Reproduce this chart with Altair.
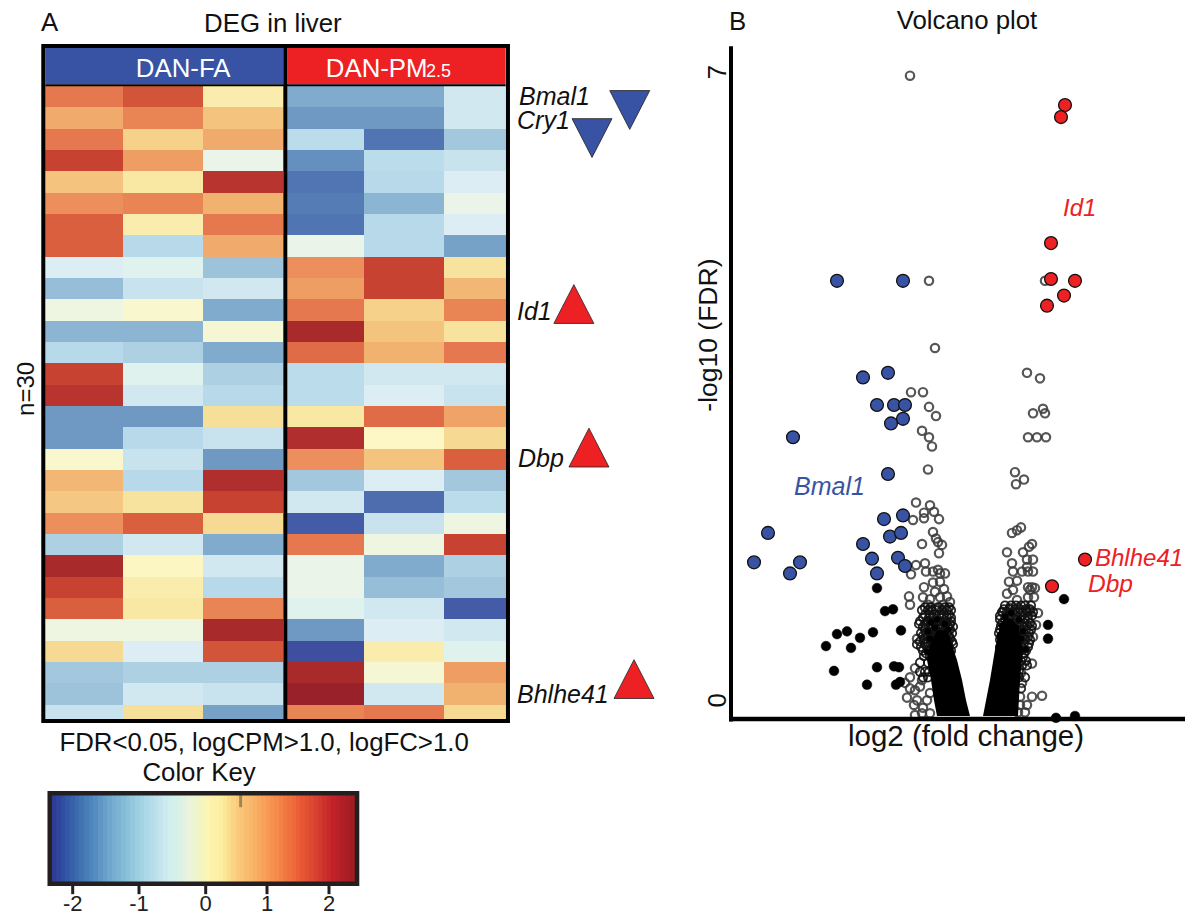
import altair as alt
import pandas as pd

FONT = "Liberation Sans"
BLUE, RED, INK = "#3953a4", "#ed2024", "#231f20"

# ---------- heat map values (z-score) ----------
heat_fa = [
 [1.3,1.6,0.25],[0.9,1.2,0.7],[1.3,0.55,0.9],[1.75,1.0,-0.2],[0.7,0.3,1.95],[1.1,1.2,0.85],
 [1.5,0.25,1.3],[1.5,-0.8,0.9],[-0.4,-0.3,-1.05],[-1.1,-0.6,-0.5],[-0.1,0.05,-1.3],[-1.2,-1.2,0.0],
 [-0.8,-0.9,-1.3],[1.75,-0.3,-0.9],[1.95,-0.5,-0.8],[-1.5,-1.5,0.4],[-1.5,-0.8,-0.6],[0.05,-0.6,-1.5],
 [0.8,-0.8,2.05],[0.65,0.35,1.75],[1.1,1.5,0.45],[-0.9,-0.5,-1.3],[2.2,0.12,-0.5],[1.75,0.25,-0.8],
 [1.5,0.3,1.2],[-0.1,-0.1,2.2],[0.45,-0.4,1.6],[-1.0,-0.9,-0.9],[-1.05,-0.5,-0.6],[-0.6,0.4,-1.4]]
heat_pm = [
 [-1.3,-1.3,-0.5],[-1.5,-1.5,-0.5],[-0.75,-1.9,-1.0],[-1.6,-0.75,-0.6],[-1.9,-0.8,-0.4],[-1.8,-1.2,-0.2],
 [-1.9,-0.8,-0.4],[-0.2,-0.8,-1.4],[1.1,1.75,0.35],[1.0,1.75,0.8],[1.3,0.55,1.2],[2.2,0.7,0.35],
 [1.4,0.85,1.3],[-0.75,-0.5,-0.5],[-0.75,-0.4,-0.6],[0.3,1.4,0.95],[2.05,0.1,0.45],[1.1,0.7,1.5],
 [-1.0,-0.4,-1.0],[-0.5,-2.0,-0.75],[-2.2,-0.6,-0.1],[1.3,-0.1,1.75],[-0.2,-1.3,-0.9],[-0.2,-1.1,-1.0],
 [-0.3,-0.5,-2.2],[-1.5,-0.4,-0.5],[-2.35,0.25,-0.3],[2.2,0.0,1.0],[2.4,-0.5,0.85],[1.2,1.3,0.45]]
col_left  = [0, 1, 2, 3.05, 4.05, 5.05]
col_right = [1, 2, 3, 4.05, 5.05, 6.05]
last_row_end = 29.69

heat_stop_z = [-2.35,-2.0,-1.7,-1.5,-1.3,-1.0,-0.8,-0.6,-0.4,-0.2,-0.05,0.1,0.3,0.5,0.7,0.9,1.1,1.3,1.5,1.75,2.0,2.2,2.4]
heat_stop_c = ["#3f4fa0","#4d6dae","#5b84b8","#6f99c3","#80abcd","#a3c8de","#b7d9e9","#c8e3ee","#dcedf3","#eaf4e9",
               "#f3f6dc","#fcf7c5","#f8e8a4","#f5d58d","#f4c47f","#f0aa6b","#ec8f5c","#e5784f","#d95f3e","#c74231",
               "#b3302f","#a82a2b","#99222a"]

# ---------- colour key ----------
key_edges = [-2.32,-2.25,-2.18,-2.11,-2.04,-1.97,-1.9,-1.83,-1.76,-1.69,-1.62,-1.55,-1.48,-1.41,-1.34,-1.27,-1.2,-1.13,-1.06,-0.99,
             -0.92,-0.85,-0.78,-0.71,-0.64,-0.57,-0.5,-0.43,-0.36,-0.29,-0.22,-0.15,-0.08,0.0,0.07,0.14,0.21,0.28,0.35,0.42,0.49,
             0.56,0.63,0.7,0.77,0.84,0.91,0.98,1.05,1.12,1.19,1.26,1.33,1.4,1.47,1.54,1.61,1.68,1.75,1.82,1.89,1.96,2.03,2.1,2.17,2.24,2.32,2.4]
key_stop_z = [-2.32,-2.0,-1.5,-1.0,-0.6,-0.3,0.0,0.25,0.5,0.8,1.1,1.5,2.0,2.4]
key_stop_c = ["#2f3b95","#3a66ab","#6ea5cc","#a3d3e4","#d2ecf2","#eaf3dd","#fdf5b4","#fdeb9c","#f9c97a","#f8ad63",
              "#f58c4c","#ea5a35","#c5222a","#971a20"]
key_ticks = [-2, -1, 0, 1, 2]
key_labels = ["-2", "-1", "0", "1", "2"]

# ---------- volcano: log2 fold change, -log10 FDR ----------
blue_x = [-1.38,-0.72,-1.12,-0.87,-0.98,-0.81,-0.70,-0.84,-0.72,-0.87,-1.82,-2.07,-2.21,-1.75,-1.85,-0.91,-0.72,-0.85,-0.74,-1.12,-1.03,-0.77,-0.70,-0.98]
blue_y = [4.73,4.73,3.68,3.73,3.38,3.38,3.38,3.18,3.23,2.63,3.03,1.99,1.67,1.67,1.55,2.14,2.18,1.95,1.99,1.87,1.71,1.72,1.63,1.55]
red_x = [0.90,0.86,0.76,0.76,1.00,0.89,0.72,1.10,0.77]
red_y = [6.64,6.51,5.14,4.75,4.73,4.57,4.46,1.70,1.41]
black_x = [-0.98,-0.90,-0.82,-1.38,-1.28,-1.15,-1.02,-0.74,-1.49,-1.24,-1.41,-0.98,-0.81,-0.76,-1.08,-0.79,-0.75,0.89,0.73,0.73,1.00,0.81]
black_y = [1.39,1.14,1.16,0.89,0.92,0.85,0.91,0.93,0.76,0.74,0.49,0.53,0.54,0.53,0.34,0.34,0.37,1.27,0.99,0.84,0.0,-0.02]

# clumps of fully overlapped genes on the shoulders of the V
clump_x = [-0.44,-0.38,-0.30,-0.47,-0.40,-0.33,-0.27,-0.45,-0.37,-0.31,-0.42,-0.35,-0.29,-0.48,-0.40,-0.25,
           0.30,0.36,0.44,0.27,0.33,0.41,0.48,0.25,0.31,0.38,0.46,0.29,0.36,0.43,0.51,0.33,0.40]
clump_y = [1.02,1.05,1.00,0.92,0.96,0.90,0.94,0.84,0.86,0.82,0.76,0.74,0.78,0.70,0.67,0.72,
           1.08,1.12,1.05,0.98,1.02,0.96,0.92,0.88,0.90,0.86,0.84,0.80,0.76,0.78,0.72,0.68,0.62]

hollow_sparse_x = [-0.65,-0.46,0.70,-0.40,0.52,0.65,-0.64,-0.52,-0.46,-0.39,-0.53,-0.46,-0.43,-0.47,0.58,0.68,0.70,0.53,0.62,0.71,0.40,0.49,0.41,
    -0.59,-0.45,-0.51,-0.41,-0.62,-0.51,-0.36,-0.42,-0.39,-0.37,-0.33,-0.36,-0.53,-0.59,-0.50,-0.64,-0.49,-0.42,-0.37,-0.35,-0.30,-0.35,-0.42,-0.51,-0.31,-0.40,-0.66,-0.52,-0.28,-0.45,-0.35,-0.25,-0.65,-0.47,-0.38,-0.32,
    -0.60,-0.65,-0.70,-0.68,-0.60,-0.65,-0.55,-0.52,-0.61,-0.53,-0.48,-0.45,-0.58,-0.53,-0.60,-0.45,-0.58]
hollow_sparse_y = [6.96,4.73,4.73,4.00,3.73,3.67,3.52,3.52,3.36,3.26,3.10,3.03,2.93,2.68,3.29,3.34,3.29,3.03,3.03,3.03,2.65,2.57,2.52,
    2.32,2.29,2.21,2.22,2.13,2.15,2.14,2.00,1.93,1.89,1.86,1.77,1.87,1.64,1.66,1.54,1.57,1.57,1.59,1.55,1.55,1.46,1.45,1.40,1.38,1.35,1.30,1.29,1.30,1.27,1.29,1.24,1.21,1.21,1.18,1.21,
    0.52,0.42,0.36,0.20,0.28,0.30,0.32,0.09,0.12,0.39,0.17,0.25,0.17,0.03,0.01,0.03,0.84]
hollow_right_x = [0.46,0.42,0.37,0.32,0.57,0.54,0.48,0.37,0.38,0.47,0.52,0.58,0.52,0.58,0.53,0.34,0.42,0.57,0.55,0.60,0.53,0.32,0.38,0.42,0.53,0.59,0.28,0.35,0.54,0.63,0.61,0.53,0.58,0.57,0.57,0.67,0.45,0.50,0.43,0.46,0.47,0.45,0.52]
hollow_right_y = [2.05,2.02,1.99,1.78,1.87,1.84,1.78,1.66,1.57,1.57,1.70,1.70,1.62,1.57,1.57,1.46,1.47,1.40,1.37,1.39,1.40,1.33,1.37,1.26,1.29,1.29,1.13,1.17,1.15,1.12,0.99,1.04,0.86,0.57,0.21,0.22,0.21,0.04,0.04,0.47,0.36,0.12,0.12]

# dense shoulders of the V: -log10 FDR level, then the log2 fold changes seen at that level
dense_left = {1.18:[-0.50,-0.44,-0.36,-0.30,-0.26], 1.15:[-0.53,-0.47,-0.43,-0.39,-0.33,-0.28,-0.24],
    1.10:[-0.50,-0.45,-0.41,-0.36,-0.31,-0.26], 1.07:[-0.52,-0.46,-0.42,-0.33,-0.28,-0.24],
    1.03:[-0.55,-0.48,-0.44,-0.38,-0.35,-0.29,-0.24], 1.00:[-0.56,-0.50,-0.44,-0.40,-0.34,-0.30,-0.25],
    0.97:[-0.52,-0.46,-0.42,-0.37,-0.32,-0.27,-0.22], 0.94:[-0.50,-0.44,-0.40,-0.35,-0.30,-0.25],
    0.90:[-0.54,-0.49,-0.43,-0.39,-0.33,-0.28,-0.23], 0.87:[-0.52,-0.47,-0.41,-0.37,-0.31,-0.26],
    0.84:[-0.51,-0.45,-0.40,-0.35,-0.30,-0.25], 0.81:[-0.55,-0.48,-0.42,-0.37,-0.32,-0.27,-0.23],
    0.78:[-0.58,-0.50,-0.44,-0.38,-0.33,-0.27,-0.22], 0.75:[-0.54,-0.48,-0.42,-0.38,-0.32,-0.26],
    0.71:[-0.52,-0.46,-0.41,-0.36,-0.30,-0.24], 0.68:[-0.49,-0.43,-0.37,-0.31,-0.25],
    0.65:[-0.51,-0.45,-0.39,-0.34,-0.27], 0.58:[-0.55,-0.47,-0.41,-0.35],
    0.48:[-0.55,-0.50,-0.46], 0.42:[-0.52,-0.47]}
dense_right = {1.20:[0.30,0.36,0.41,0.46,0.50,0.56], 1.16:[0.29,0.34,0.40,0.45,0.51,0.55],
    1.13:[0.27,0.32,0.38,0.43,0.48,0.52,0.58], 1.09:[0.25,0.31,0.36,0.41,0.47,0.53,0.57],
    1.05:[0.25,0.30,0.35,0.40,0.45,0.50], 1.01:[0.27,0.33,0.38,0.44,0.49,0.55],
    0.98:[0.26,0.31,0.37,0.42,0.47,0.52,0.57], 0.94:[0.25,0.29,0.35,0.41,0.46,0.51,0.56],
    0.90:[0.24,0.30,0.34,0.39,0.44,0.49,0.54], 0.86:[0.26,0.32,0.38,0.43,0.48,0.53],
    0.83:[0.25,0.29,0.35,0.40,0.45,0.50,0.55], 0.79:[0.27,0.33,0.39,0.44,0.49,0.54],
    0.75:[0.25,0.31,0.37,0.42,0.47,0.53], 0.71:[0.29,0.35,0.40,0.45,0.51],
    0.68:[0.27,0.33,0.38,0.43,0.49], 0.64:[0.31,0.37,0.42,0.48],
    0.60:[0.34,0.40,0.46,0.51], 0.55:[0.47,0.52], 0.50:[0.39,0.44], 0.42:[0.44,0.50], 0.30:[0.46]}

# solid black mass of overlapping genes: level, inner and outer limit
arm_left_y  = [0.0,0.17,0.39,0.61,0.77,0.93]
arm_left_x  = [-0.38,-0.41,-0.44,-0.48,-0.45,-0.38]
arm_left_x2 = [-0.05,-0.09,-0.13,-0.18,-0.23,-0.28]
arm_right_y  = [0.0,0.39,0.72,0.93,1.05]
arm_right_x  = [0.08,0.15,0.20,0.24,0.28]
arm_right_x2 = [0.43,0.45,0.48,0.44,0.38]

# ---------- scales ----------
hx = alt.Scale(domain=[0,1,2,3,3.05,4.05,5.05,6.05], range=[37.3,114.7,195.3,275.3,279.3,356.3,436.3,497.7], zero=False, nice=False)
hy = alt.Scale(domain=[0,30], range=[78,718], zero=False, nice=False)
kx = alt.Scale(domain=[-2.32,-2,-1,0,1,2,2.4], range=[43.7,64.7,131,197.7,259,321,347.7], zero=False, nice=False)
ky = alt.Scale(domain=[0,1], range=[874,787], zero=False, nice=False)
vx = alt.Scale(domain=[-2.42,2.18], range=[725,1185], zero=False, nice=False)
vy = alt.Scale(domain=[0,7], range=[708,64], zero=False, nice=False)

def X(s, f="x"): return alt.X(f"{f}:Q", scale=s, axis=None)
def Y(s, f="y"): return alt.Y(f"{f}:Q", scale=s, axis=None)

def text(sx, sy, x, y, s, size=25.8, color="#111111", align="center", italic=False, angle=None):
    kw = dict(font=FONT, fontSize=size, color=color, align=align, baseline="alphabetic")
    if italic: kw["fontStyle"] = "italic"
    if angle is not None: kw["angle"] = angle
    return alt.Chart(pd.DataFrame({"x":[x],"y":[y],"t":[s]})).mark_text(**kw).encode(x=X(sx), y=Y(sy), text="t:N")

def box(sx, sy, x0, x1, y0, y1, **kw):
    return alt.Chart(pd.DataFrame({"x":[x0],"x2":[x1],"y":[y0],"y2":[y1]})).mark_rect(**kw).encode(
        x=X(sx), x2="x2:Q", y=Y(sy), y2="y2:Q")

def vrule(sx, sy, x, y0, y1, **kw):
    return alt.Chart(pd.DataFrame({"x":[x],"y":[y0],"y2":[y1]})).mark_rule(**kw).encode(x=X(sx), y=Y(sy), y2="y2:Q")

def hrule(sx, sy, x0, x1, y, **kw):
    return alt.Chart(pd.DataFrame({"x":[x0],"x2":[x1],"y":[y]})).mark_rule(**kw).encode(x=X(sx), x2="x2:Q", y=Y(sy))

layers = []

# heat map cells
rows = []
for r, (a, b) in enumerate(zip(heat_fa, heat_pm)):
    for c, v in enumerate(a + b):
        rows.append({"x":col_left[c], "x2":col_right[c], "y":r, "y2":min(r+1, last_row_end), "z":v})
heat_round_x = alt.Scale(domain=hx.domain, range=hx.range, zero=False, nice=False, round=True)
heat_round_y = alt.Scale(domain=hy.domain, range=hy.range, zero=False, nice=False, round=True)
layers.append(alt.Chart(pd.DataFrame(rows)).mark_rect().encode(
    x=X(heat_round_x), x2="x2:Q", y=Y(heat_round_y), y2="y2:Q",
    color=alt.Color("z:Q", legend=None, scale=alt.Scale(domain=heat_stop_z, range=heat_stop_c))))

# heat map frame and header
layers.append(box(hx, hy, 0, 3, -1.8, -0.08, color=BLUE))
layers.append(box(hx, hy, 3.05, 6.05, -1.8, -0.08, color=RED))
layers.append(hrule(hx, hy, 0, 6.05, -0.04, color="black", strokeWidth=2))
layers.append(vrule(hx, hy, 3.025, -1.875, 29.72, color="black", strokeWidth=4))
layers.append(box(hx, hy, -0.026, 6.087, -1.875, 29.77, fillOpacity=0, stroke="black", strokeWidth=4))

layers.append(text(hx, hy, 1.75, -0.41, "DAN-FA", color="white"))
layers.append(text(hx, hy, 3.55, -0.41, "DAN-PM", color="white", align="left"))
layers.append(text(hx, hy, 4.82, -0.41, "2.5", size=18, color="white", align="left"))
layers.append(text(hx, hy, -0.056, -2.59, "A", align="left"))
layers.append(text(hx, hy, 2.87, -2.52, "DEG in liver"))
layers.append(text(hx, hy, -0.146, 14.2, "n=30", size=24, angle=270))
layers.append(text(hx, hy, 2.76, 31.15, "FDR<0.05, logCPM>1.0, logFC>1.0"))

# gene annotations next to the heat map
gene_names = ["Bmal1","Cry1","Id1","Dbp","Bhlhe41"]
gene_text_x = [6.267,6.234,6.234,6.25,6.234]
gene_text_y = [0.89,2.02,10.97,17.86,28.93]
gene_mark_x = [8.07,7.456,7.16,7.406,8.14]
gene_mark_y = [1.125,2.44,10.22,16.95,27.8]
tri_down = "M-1,-0.97L1,-0.97L0,0.97Z"
tri_up = "M0,-0.97L1,0.97L-1,0.97Z"
gene_dir = [tri_down,tri_down,tri_up,tri_up,tri_up]
gene_col = [BLUE,BLUE,RED,RED,RED]
for n, tx, ty, mx, my, d, c in zip(gene_names, gene_text_x, gene_text_y, gene_mark_x, gene_mark_y, gene_dir, gene_col):
    layers.append(text(hx, hy, tx, ty, n, align="left", italic=True, size=25))
    layers.append(alt.Chart(pd.DataFrame({"x":[mx],"y":[my]})).mark_point(
        shape=d, size=1600, filled=True, fill=c, stroke=INK, strokeWidth=0.8, opacity=1).encode(x=X(hx), y=Y(hy)))

# colour key
kx_round = alt.Scale(domain=kx.domain, range=kx.range, zero=False, nice=False, round=True)
kb = pd.DataFrame({"x":key_edges[:-1], "x2":key_edges[1:], "z":key_edges[:-1], "y":[0]*(len(key_edges)-1), "y2":[1]*(len(key_edges)-1)})
layers.append(alt.Chart(kb).mark_rect().encode(
    x=X(kx_round), x2="x2:Q", y=Y(ky), y2="y2:Q",
    color=alt.Color("z:Q", legend=None, scale=alt.Scale(domain=key_stop_z, range=key_stop_c))))
layers.append(vrule(kx, ky, 0.57, 1.0, 0.86, color="#6b5a3a", strokeWidth=3, opacity=0.6))
layers.append(box(kx, ky, -2.35, 2.42, -0.02, 1.02, fillOpacity=0, stroke=INK, strokeWidth=4.5))
tk = pd.DataFrame({"x":key_ticks, "y":[-0.03]*5, "y2":[-0.14]*5, "t":key_labels, "ly":[-0.333]*5})
layers.append(alt.Chart(tk).mark_rule(color=INK, strokeWidth=3).encode(x=X(kx), y=Y(ky), y2="y2:Q"))
layers.append(alt.Chart(tk).mark_text(font=FONT, fontSize=22, color="#222222", baseline="alphabetic").encode(
    x=X(kx), y=Y(ky, "ly"), text="t:N"))
layers.append(text(kx, ky, -0.1, 1.16, "Color Key"))

# volcano
hx_sparse = list(hollow_sparse_x) + list(hollow_right_x)
hy_sparse = list(hollow_sparse_y) + list(hollow_right_y)
hx_dense, hy_dense = [], []
for d in (dense_left, dense_right):
    for lvl, xs in d.items():
        hx_dense += xs
        hy_dense += [lvl]*len(xs)
layers.append(alt.Chart(pd.DataFrame({"x":hx_sparse,"y":hy_sparse})).mark_point(
    filled=False, size=70, stroke="#3a3a3a", strokeWidth=2.2, opacity=0.85).encode(x=X(vx), y=Y(vy)))
layers.append(alt.Chart(pd.DataFrame({"x":hx_dense,"y":hy_dense})).mark_point(
    filled=False, size=70, stroke="#111111", strokeWidth=1.8, opacity=0.9).encode(x=X(vx), y=Y(vy)))
for ax, ax2, ay in ((arm_left_x, arm_left_x2, arm_left_y), (arm_right_x, arm_right_x2, arm_right_y)):
    layers.append(alt.Chart(pd.DataFrame({"x":ax,"x2":ax2,"y":ay})).mark_area(color="black", orient="horizontal").encode(
        x=X(vx), x2="x2:Q", y=Y(vy)))
layers.append(alt.Chart(pd.DataFrame({"x":clump_x,"y":clump_y})).mark_point(
    filled=True, size=40, fill="black", strokeWidth=0, opacity=1).encode(x=X(vx), y=Y(vy)))
layers.append(alt.Chart(pd.DataFrame({"x":black_x,"y":black_y})).mark_point(
    filled=True, size=95, fill="black", stroke="black", strokeWidth=0.5, opacity=1).encode(x=X(vx), y=Y(vy)))
layers.append(alt.Chart(pd.DataFrame({"x":blue_x,"y":blue_y})).mark_point(
    filled=True, size=165, fill=BLUE, stroke="#111111", strokeWidth=1.3, opacity=1).encode(x=X(vx), y=Y(vy)))
layers.append(alt.Chart(pd.DataFrame({"x":red_x,"y":red_y})).mark_point(
    filled=True, size=165, fill=RED, stroke="#111111", strokeWidth=1.3, opacity=1).encode(x=X(vx), y=Y(vy)))

# volcano frame
layers.append(vrule(vx, vy, -2.44, 7.28, -0.06, color="black", strokeWidth=4))
layers.append(hrule(vx, vy, -2.46, 2.10, -0.033, color="black", strokeWidth=4.5))

layers.append(text(vx, vy, -2.46, 7.46, "B", align="left"))
layers.append(text(vx, vy, -0.08, 7.47, "Volcano plot"))
layers.append(text(vx, vy, -0.09, -0.33, "log2 (fold change)", size=29.5))
layers.append(text(vx, vy, -2.58, 4.14, "-log10 (FDR)", size=26.5, angle=270))
layers.append(text(vx, vy, -2.49, 7.0, "7", angle=270))
layers.append(text(vx, vy, -2.49, 0.17, "0", angle=270))
layers.append(text(vx, vy, 0.88, 5.43, "Id1", size=24, color=RED, align="left", italic=True))
layers.append(text(vx, vy, -1.81, 2.4, "Bmal1", size=25, color=BLUE, align="left", italic=True))
layers.append(text(vx, vy, 1.20, 1.63, "Bhlhe41", size=24, color=RED, align="left", italic=True))
layers.append(text(vx, vy, 1.13, 1.35, "Dbp", size=24.5, color=RED, align="left", italic=True))

chart = alt.layer(*layers).resolve_scale(x="independent", y="independent", color="independent").properties(
    width=1177, height=908, padding=0, autosize=alt.AutoSizeParams(type="none"), background="white"
).configure_view(strokeWidth=0)

chart.save("out.html", embed_options={"renderer": "svg", "actions": False})
